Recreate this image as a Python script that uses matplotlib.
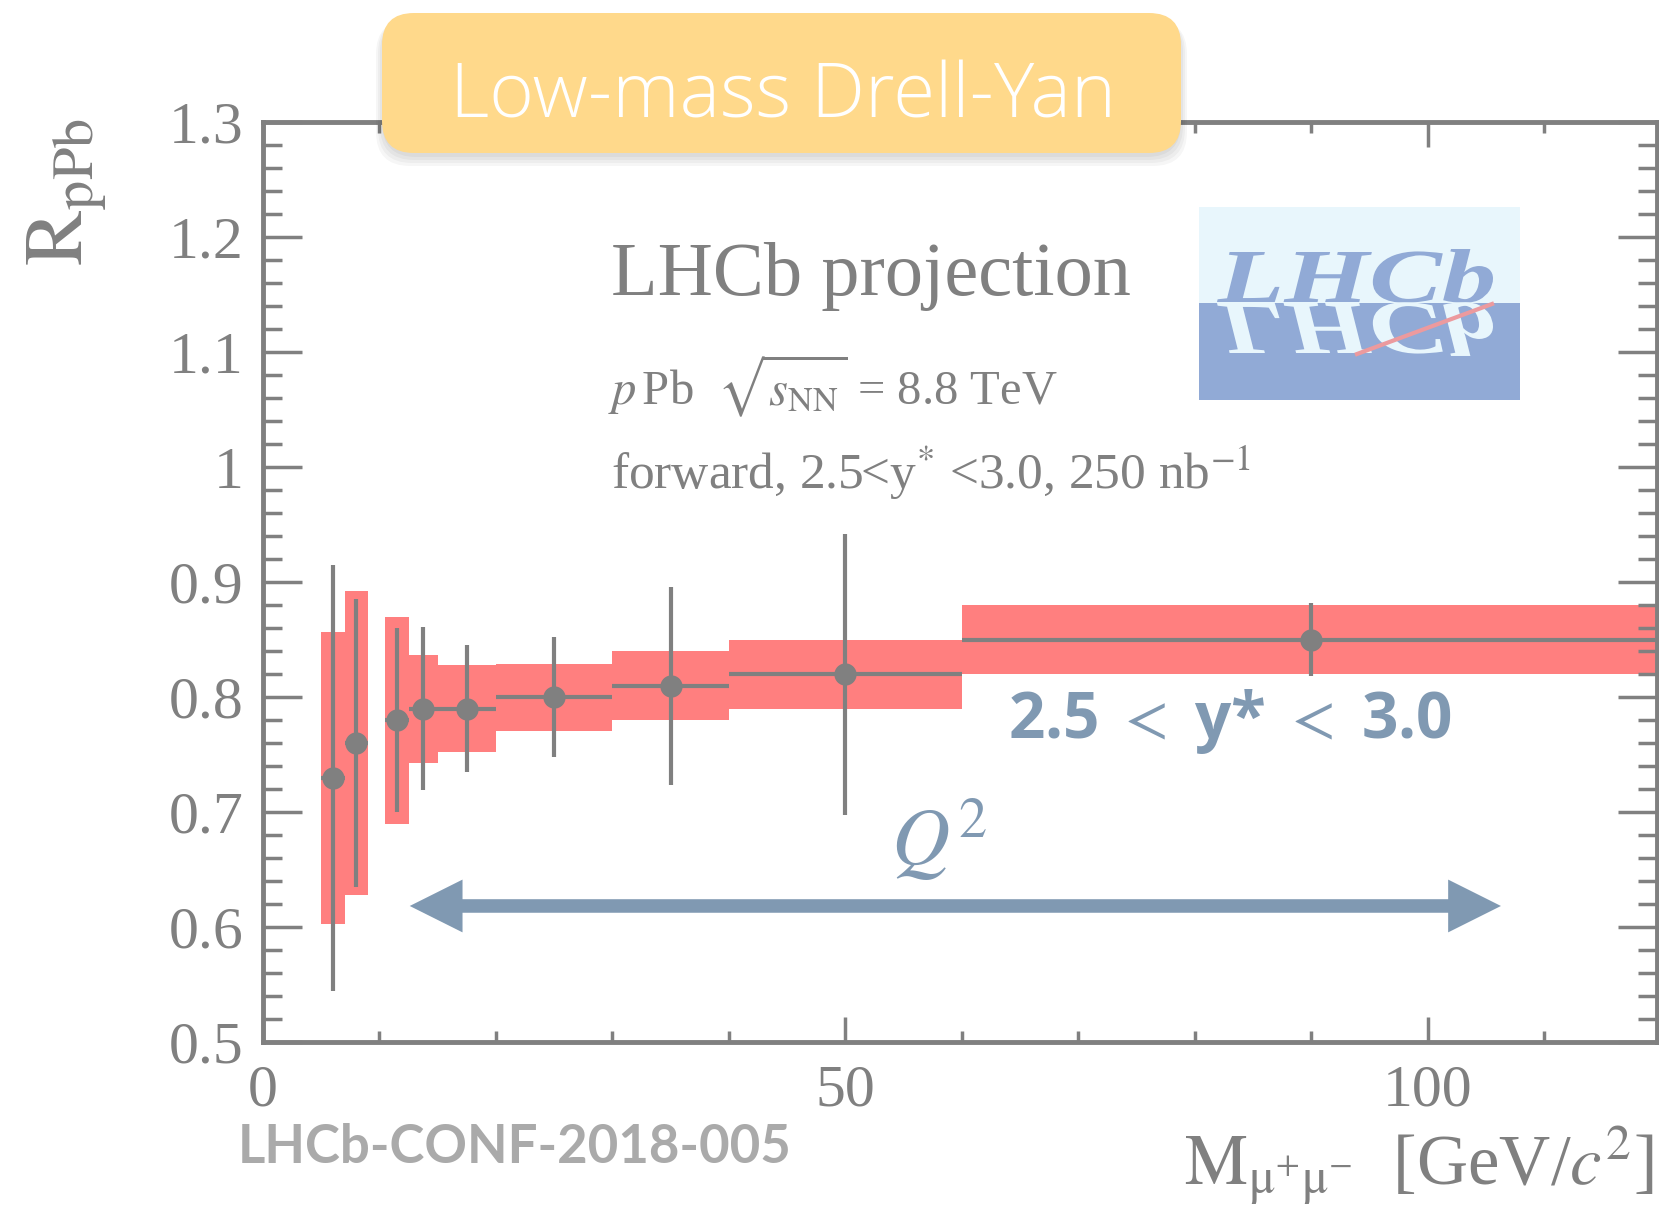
'''
LHCb projection: R_pPb vs dimuon mass (low-mass Drell-Yan)
'''

import numpy as np
import matplotlib
matplotlib.use('Agg')
from matplotlib import pyplot as plt
from matplotlib.patches import Rectangle, FancyBboxPatch, FancyArrowPatch, PathPatch, ArrowStyle
from matplotlib.lines import Line2D
from matplotlib.textpath import TextPath
from matplotlib.font_manager import FontProperties
from matplotlib.transforms import Affine2D
from matplotlib.ticker import MultipleLocator, FuncFormatter

plt.rcParams['font.family'] = ['Liberation Serif', 'DejaVu Serif']
plt.rcParams['mathtext.fontset'] = 'stix'

W, H = 1659, 1215

# data
mass = [6, 8, 11.5, 13.7, 17.5, 25, 35, 50, 90]
bin_lo = [5, 7, 10.5, 12.5, 15, 20, 30, 40, 60]
bin_hi = [7, 9, 12.5, 15, 20, 30, 40, 60, 120]
r_ppb = [0.73, 0.76, 0.78, 0.79, 0.79, 0.80, 0.81, 0.82, 0.85]
stat_err = [0.185, 0.125, 0.08, 0.071, 0.055, 0.052, 0.086, 0.122, 0.032]
syst_err = [0.127, 0.132, 0.09, 0.047, 0.038, 0.029, 0.03, 0.03, 0.03]

# Q^2 arrow span (data units)
arrow_x = (12.6, 106.3)
arrow_y = 0.6185

GREY = '#808080'
PINK = '#FF7F7F'
BLUE = '#8099B2'
YELLOW = '#FFD98B'
LOGO_LIGHT = '#E8F6FC'
LOGO_BLUE = '#91AAD6'


def main():
    fig = plt.figure(figsize=(W / 100, H / 100), dpi=100)
    # pixel coordinates measured from the top left corner
    pix = Affine2D().scale(1 / W, -1 / H).translate(0, 1) + fig.transFigure

    ax = fig.add_axes([263 / W, 1 - 1042.3 / H, (1657 - 263) / W, (1042.3 - 122) / H])

    x = np.array(mass)
    lo = np.array(bin_lo)
    hi = np.array(bin_hi)
    r = np.array(r_ppb)
    syst = np.array(syst_err)

    # systematic bands
    ax.bar(lo, 2 * syst, width=hi - lo, bottom=r - syst, align='edge',
           color=PINK, linewidth=0, zorder=1)
    # points with statistical errors
    ax.errorbar(x, r, yerr=stat_err, xerr=[x - lo, hi - x], fmt='o', color=GREY,
                ms=15, elinewidth=3, capsize=0, zorder=3)

    ax.set_xlim(0, 119.7)
    ax.set_ylim(0.5, 1.3)
    ax.xaxis.set_major_locator(MultipleLocator(50))
    ax.xaxis.set_minor_locator(MultipleLocator(10))
    ax.yaxis.set_major_locator(MultipleLocator(0.1))
    ax.yaxis.set_minor_locator(MultipleLocator(0.02))
    fmt = FuncFormatter(lambda v, p: f'{v:g}')
    ax.xaxis.set_major_formatter(fmt)
    ax.yaxis.set_major_formatter(fmt)

    for s in ax.spines.values():
        s.set_color(GREY)
        s.set_linewidth(3.5)
    ax.tick_params(axis='both', which='both', direction='in', color=GREY,
                   labelcolor=GREY, width=2.5, labelsize=43)
    ax.tick_params(axis='y', which='major', length=28, pad=14, left=True, right=True)
    ax.tick_params(axis='y', which='minor', length=14, left=True, right=True)
    ax.tick_params(axis='x', which='major', length=18, pad=16, top=True, bottom=True)
    ax.tick_params(axis='x', which='minor', length=8, top=True, bottom=True)

    # Q^2 double arrow: two overlapping single-headed arrows
    style = ArrowStyle.Simple(head_length=38, head_width=38, tail_width=9.4)
    for a, b in ((arrow_x[0], arrow_x[1]), (arrow_x[1], arrow_x[0])):
        ax.add_patch(FancyArrowPatch((a, arrow_y), (b, arrow_y), arrowstyle=style,
                                     mutation_scale=1, color=BLUE, lw=0,
                                     shrinkA=30, shrinkB=0, zorder=4))

    # texts
    fig.text(611, 295, 'LHCb projection', transform=pix, size=55, color=GREY,
             ha='left', va='baseline')
    fig.text(608, 405, r'$p\,$Pb  $\sqrt{s_{\mathrm{NN}}}$ = 8.8 TeV', transform=pix,
             size=35, color=GREY, ha='left', va='baseline')
    fig.text(611, 489, r'forward, 2.5<y$^{*}$ <3.0, 250 nb$^{\mathrm{-1}}$', transform=pix,
             size=37, color=GREY, ha='left', va='baseline')
    fig.text(1008, 738, r'2.5 $<$ y* $<$ 3.0', transform=pix, size=46, color=BLUE,
             family='Open Sans', weight='bold', ha='left', va='baseline')
    fig.text(891, 866, r'$Q^{2}$', transform=pix, size=58, color=BLUE,
             ha='left', va='baseline')
    fig.text(238, 1163, 'LHCb-CONF-2018-005', transform=pix, size=38, color='#AAAAAA',
             family='Lato', weight='bold', ha='left', va='baseline')
    fig.text(1184, 1185, r'$\mathrm{M}_{\mathrm{\mu^{+}\mu^{-}}}$  [GeV/$c^{2}$]', transform=pix,
             size=51, color=GREY, ha='left', va='baseline')
    fig.text(83, 118, r'$\mathrm{R}_{\mathrm{pPb}}$', transform=pix, size=60, color=GREY,
             rotation=90, rotation_mode='anchor', ha='right', va='baseline')

    # title box with a soft shadow
    for k in range(4):
        sh = FancyBboxPatch((382 - k * 2, 17 + k), 799 + k * 4, 140 + k * 2,
                            boxstyle='round,pad=0,rounding_size=34', transform=pix,
                            fc='#000000', ec='none', alpha=0.035, zorder=5)
        fig.add_artist(sh)
    box = FancyBboxPatch((382, 13), 799, 140, boxstyle='round,pad=0,rounding_size=32',
                         transform=pix, fc=YELLOW, ec='none', zorder=5)
    fig.add_artist(box)
    fig.text(783, 117, 'Low-mass Drell-Yan', transform=pix, size=55, color='white',
             family='Open Sans', weight='light', ha='center', va='baseline', zorder=6)

    # LHCb logo
    fig.add_artist(Rectangle((1199, 207), 321, 96, transform=pix, fc=LOGO_LIGHT, ec='none', zorder=5))
    fig.add_artist(Rectangle((1199, 303), 321, 97, transform=pix, fc=LOGO_BLUE, ec='none', zorder=5))
    fp = FontProperties(family='Liberation Serif', style='italic', weight='bold')
    tp = TextPath((0, 0), 'LHCb', size=100, prop=fp)
    cap = TextPath((0, 0), 'L', size=100, prop=fp).get_extents().y1
    ext = tp.get_extents()
    sy = 50 / cap
    sx = 276 / (ext.x1 - ext.x0)
    up = Affine2D().translate(-ext.x0, 0).scale(sx, sy).translate(1217, -302).scale(1, -1)
    down = Affine2D().translate(-ext.x0, 0).scale(sx, sy).translate(1217, 303)
    fig.add_artist(PathPatch(tp, transform=up + pix, fc=LOGO_BLUE, ec='none', zorder=6))
    fig.add_artist(PathPatch(tp, transform=down + pix, fc=LOGO_LIGHT, ec='none', zorder=6))
    fig.add_artist(Line2D([1357, 1492], [354, 304], transform=pix, color='#EC9A9E', lw=3, zorder=7))

    fig.savefig('out.png', dpi=100)


if __name__ == '__main__':
    main()
